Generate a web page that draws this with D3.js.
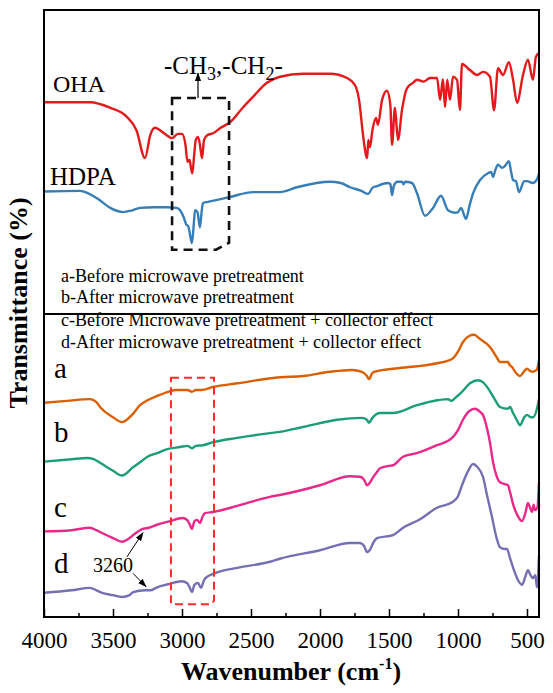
<!DOCTYPE html>
<html><head><meta charset="utf-8">
<script src="https://cdn.jsdelivr.net/npm/d3@7/dist/d3.min.js"></script>
<style>
html,body{margin:0;padding:0;background:#fff;}
svg, svg text{font-family:"Liberation Serif","Times New Roman",serif;}
svg{display:block;}
</style></head>
<body>
<svg id="chart" width="553" height="693"></svg>
<script>
// ---------- data (wavenumber cm-1, relative transmittance) ----------
const OHA = [[4000,84.8],[3667,84.8],[3522,83.9],[3400,82.4],[3330,80.2],[3268,75.6],[3230,79.4],[3196,80.6],[3130,79.7],[3072,78.9],[3030,79.6],[3000,79.6],[2975,77.8],[2960,75.0],[2945,75.3],[2935,74.0],[2925,73.1],[2912,76.1],[2900,78.6],[2884,79.1],[2870,77.8],[2855,75.6],[2840,78.6],[2815,79.4],[2775,79.7],[2720,80.6],[2652,81.5],[2560,83.9],[2485,85.7],[2385,88.0],[2290,89.0],[2123,89.5],[1928,89.5],[1804,88.8],[1746,87.6],[1717,85.2],[1688,79.4],[1667,76.1],[1658,75.6],[1650,78.6],[1638,77.4],[1620,80.2],[1594,82.2],[1580,81.1],[1550,85.2],[1515,86.7],[1490,84.3],[1478,77.8],[1457,83.9],[1435,78.6],[1406,83.5],[1370,87.1],[1326,88.0],[1297,88.5],[1250,88.2],[1203,88.8],[1152,88.8],[1130,85.2],[1109,88.6],[1094,84.0],[1078,88.5],[1058,85.2],[1036,89.0],[1007,88.5],[986,83.5],[971,91.1],[913,90.1],[862,89.3],[819,89.8],[768,89.0],[739,83.5],[710,90.4],[674,89.3],[631,91.4],[601,88.5],[572,84.7],[529,89.3],[493,91.8],[457,88.5],[435,92.3],[413,92.9]];
const HDPA = [[4000,70.1],[3739,70.2],[3680,69.8],[3616,69.0],[3520,67.4],[3428,66.7],[3360,67.0],[3304,67.4],[3200,67.5],[3109,67.5],[3040,67.4],[3014,67.0],[2985,65.7],[2968,64.6],[2955,64.4],[2945,63.4],[2928,61.6],[2915,64.6],[2906,67.0],[2888,66.7],[2870,64.2],[2858,66.7],[2848,68.2],[2812,68.4],[2652,69.2],[2485,70.0],[2290,70.0],[2167,70.8],[1928,71.7],[1850,71.5],[1783,70.8],[1700,70.2],[1652,69.7],[1620,70.7],[1587,71.0],[1507,71.5],[1490,71.3],[1478,69.5],[1465,71.0],[1440,71.7],[1406,71.7],[1395,71.3],[1384,71.7],[1333,71.5],[1297,69.8],[1239,66.1],[1181,67.4],[1123,69.4],[1072,67.0],[1021,66.6],[1000,66.7],[978,67.4],[942,65.6],[915,67.9],[891,69.8],[840,72.0],[783,73.1],[760,73.3],[746,72.5],[730,73.6],[710,74.5],[681,74.0],[660,74.3],[631,75.1],[615,73.3],[601,72.0],[580,71.8],[558,70.0],[520,71.8],[500,71.8],[457,71.5],[430,72.0],[413,73.0]];
const seriesA = [[4000,35.3],[3833,35.6],[3667,35.9],[3620,35.4],[3594,34.6],[3500,32.9],[3435,32.1],[3362,33.3],[3304,34.9],[3250,35.7],[3181,36.4],[3100,37.1],[3039,37.4],[2960,37.4],[2928,37.1],[2900,37.4],[2860,37.4],[2775,37.9],[2600,38.5],[2290,39.5],[2123,39.7],[1928,40.4],[1768,40.7],[1696,40.4],[1660,39.7],[1645,39.2],[1620,40.2],[1587,40.5],[1471,40.9],[1297,41.3],[1152,41.8],[1043,42.5],[1000,43.7],[964,45.3],[920,46.3],[884,46.5],[840,45.8],[768,44.5],[720,42.8],[696,42.0],[660,42.0],[638,42.0],[625,41.5],[609,41.2],[580,40.2],[551,39.7],[520,40.5],[500,40.9],[475,40.5],[457,40.4],[430,40.7],[413,42.3]];
const seriesB = [[4000,25.6],[3800,26.0],[3688,26.2],[3640,26.0],[3594,25.4],[3500,24.1],[3435,23.3],[3353,24.7],[3304,25.5],[3250,26.4],[3181,27.0],[3100,27.7],[3014,28.0],[2960,28.2],[2928,27.8],[2900,28.2],[2848,28.3],[2775,28.8],[2600,29.5],[2362,30.3],[2290,30.5],[2123,31.3],[1877,32.5],[1696,32.8],[1660,32.5],[1645,32.0],[1620,32.8],[1565,33.6],[1471,33.6],[1297,34.9],[1152,35.7],[1070,35.9],[1050,35.6],[1020,36.1],[971,37.1],[913,38.5],[855,39.0],[820,38.7],[783,37.7],[740,36.1],[696,34.6],[638,34.3],[623,34.6],[601,33.6],[575,32.5],[551,31.6],[520,32.9],[500,33.3],[470,32.9],[457,32.9],[430,34.1],[413,35.9]];
const seriesC = [[4000,14.1],[3800,14.3],[3667,14.7],[3620,14.3],[3594,14.0],[3500,13.0],[3435,12.4],[3380,13.0],[3353,13.5],[3283,14.5],[3240,14.7],[3181,15.2],[3100,15.7],[2993,16.3],[2964,16.0],[2945,15.3],[2928,14.5],[2910,15.8],[2891,16.0],[2870,15.5],[2850,16.6],[2833,17.1],[2775,17.3],[2600,18.3],[2362,19.8],[2290,20.1],[2000,21.7],[1783,23.2],[1710,23.1],[1680,22.6],[1660,21.7],[1640,22.1],[1610,23.2],[1587,23.9],[1565,24.5],[1500,24.9],[1471,25.0],[1398,26.4],[1297,27.0],[1152,28.3],[1043,29.5],[1000,30.8],[964,32.5],[920,33.9],[877,34.3],[840,33.8],[819,33.3],[790,31.1],[768,28.7],[746,25.5],[720,23.2],[696,22.2],[660,21.9],[638,21.7],[623,20.6],[600,18.5],[570,16.8],[536,15.8],[510,17.3],[493,18.8],[478,18.0],[464,17.3],[452,18.5],[442,17.6],[425,18.0],[413,22.2]];
const seriesD = [[4000,4.0],[3800,4.4],[3667,4.8],[3620,4.4],[3594,4.1],[3500,3.6],[3435,3.3],[3380,3.6],[3353,4.1],[3268,4.4],[3230,4.4],[3181,4.9],[3100,5.4],[3000,5.9],[2964,5.6],[2945,4.9],[2928,4.1],[2910,5.3],[2884,5.6],[2862,4.8],[2840,6.1],[2819,6.6],[2775,7.1],[2600,8.1],[2362,9.1],[2290,9.6],[2000,11.0],[1783,12.2],[1710,12.2],[1680,11.7],[1660,10.7],[1640,11.0],[1610,12.4],[1587,13.0],[1471,13.5],[1398,14.7],[1275,16.1],[1152,18.0],[1043,18.9],[1000,19.9],[971,21.7],[930,23.9],[891,25.2],[860,24.7],[819,23.1],[790,20.1],[754,16.5],[720,13.0],[696,11.5],[660,11.2],[645,11.2],[623,9.7],[600,8.1],[570,6.3],[536,5.3],[510,6.8],[493,7.7],[475,6.9],[457,6.4],[440,6.9],[428,4.9],[413,10.2]];

const topSeries = [{name:"OHA", data:OHA, color:"#e31a1c"},{name:"HDPA", data:HDPA, color:"#377eb8"}];
const bottomSeries = [{name:"a", data:seriesA, color:"#d95f02"},{name:"b", data:seriesB, color:"#1b9e77"},{name:"c", data:seriesC, color:"#e7298a"},{name:"d", data:seriesD, color:"#7570b3"}];

const majorTicks = [4000,3500,3000,2500,2000,1500,1000,500];
const minorTicks = [3750,3250,2750,2250,1750,1250,750];
const legendTop = ["a-Before microwave pretreatment","b-After microwave pretreatment"];
const legendBottom = ["c-Before Microwave pretreatment + collector effect","d-After microwave pretreatment + collector effect"];

// annotation regions in data units
const blackBox = {w0:3072, w1:2659, v0:60.5, v1:85.5};
const redBox = {w0:3080, w1:2768, v0:2.1, v1:39.4};

// ---------- layout ----------
const FONT = '"Liberation Serif","Times New Roman",serif';
const L=44, R=539, T=10, B=617, DIV=314;
const svg = d3.select("#chart");
const x = d3.scaleLinear().domain([4000,413]).range([L,R]);
const y = d3.scaleLinear().domain([0,100]).range([B,T]);

const defs = svg.append("defs");
defs.append("marker").attr("id","ah").attr("viewBox","0 0 10 10").attr("refX",9).attr("refY",5)
  .attr("markerWidth",9).attr("markerHeight",9).attr("markerUnits","userSpaceOnUse").attr("orient","auto")
  .append("path").attr("d","M0,1.5 L10,5 L0,8.5 Z").attr("fill","#000");

const line = d3.line().x(d=>x(d[0])).y(d=>y(d[1])).curve(d3.curveMonotoneX);

// curves
[...topSeries, ...bottomSeries].forEach(s=>{
  svg.append("path").datum(s.data).attr("d",line).attr("fill","none")
    .attr("stroke",s.color).attr("stroke-width",2.4).attr("stroke-linejoin","round");
});

// dashed boxes
svg.append("path")
  .attr("d",`M${x(blackBox.w0)},${y(blackBox.v1)} L${x(blackBox.w1)},${y(blackBox.v1)} L${x(blackBox.w1)},${y(blackBox.v0)-7} L${x(blackBox.w1)-13},${y(blackBox.v0)} L${x(blackBox.w0)},${y(blackBox.v0)} Z`)
  .attr("fill","none").attr("stroke","#111").attr("stroke-width",2.6).attr("stroke-dasharray","9,6");
svg.append("path")
  .attr("d",`M${x(redBox.w0)},${y(redBox.v1)} L${x(redBox.w1)},${y(redBox.v1)} L${x(redBox.w1)},${y(redBox.v0)-4} L${x(redBox.w1)-2},${y(redBox.v0)} L${x(redBox.w0)},${y(redBox.v0)} Z`)
  .attr("fill","none").attr("stroke","#ff2a2a").attr("stroke-width",2).attr("stroke-dasharray","8,5");

// arrow above black box
svg.append("line").attr("x1",x(2884)).attr("x2",x(2884)).attr("y1",y(blackBox.v1)).attr("y2",y(89.6))
  .attr("stroke","#000").attr("stroke-width",1.2).attr("marker-end","url(#ah)");

// 3260 arrows
svg.append("line").attr("x1",x(3399)).attr("y1",y(9.9)).attr("x2",x(3283)).attr("y2",y(13.9))
  .attr("stroke","#000").attr("stroke-width",1).attr("marker-end","url(#ah)");
svg.append("line").attr("x1",x(3355)).attr("y1",y(7.2)).attr("x2",x(3261)).attr("y2",y(5.0))
  .attr("stroke","#000").attr("stroke-width",1).attr("marker-end","url(#ah)");

// frame and divider
svg.append("rect").attr("x",L).attr("y",T).attr("width",R-L).attr("height",B-T)
  .attr("fill","none").attr("stroke","#000").attr("stroke-width",2);
svg.append("line").attr("x1",L).attr("x2",R).attr("y1",DIV).attr("y2",DIV)
  .attr("stroke","#000").attr("stroke-width",2);

// axes
const ax = svg.append("g").attr("transform",`translate(0,${B})`)
  .call(d3.axisBottom(x).tickValues(majorTicks).tickSize(-8).tickPadding(15).tickFormat(d3.format("d")));
ax.attr("font-family",FONT).style("font-family",FONT);
ax.select(".domain").remove();
ax.selectAll("line").attr("stroke","#000").attr("stroke-width",1.5);
ax.selectAll("text").style("font-family",FONT).attr("font-size",23).attr("fill","#000");
const axm = svg.append("g").attr("transform",`translate(0,${B})`)
  .call(d3.axisBottom(x).tickValues(minorTicks).tickSize(-4).tickFormat(""));
axm.select(".domain").remove();
axm.selectAll("line").attr("stroke","#000").attr("stroke-width",1.5);

// axis titles
const xt = svg.append("text").attr("x",291).attr("y",680).attr("text-anchor","middle")
  .attr("font-size",26).attr("font-weight","bold");
xt.append("tspan").text("Wavenumber (cm");
xt.append("tspan").attr("font-size",16).attr("dy",-11).text("-1");
xt.append("tspan").attr("dy",11).text(")");

svg.append("text").attr("transform","translate(27,303) rotate(-90)").attr("text-anchor","middle")
  .attr("font-size",26).attr("font-weight","bold").text("Transmittance (%)");

// labels
svg.append("text").attr("x",53).attr("y",92).attr("font-size",24).text("OHA");
svg.append("text").attr("x",50).attr("y",185).attr("font-size",25).text("HDPA");
const ch = svg.append("text").attr("x",164).attr("y",74).attr("font-size",25);
ch.append("tspan").text("-CH");
ch.append("tspan").attr("font-size",18).attr("dy",6).text("3");
ch.append("tspan").attr("dy",-6).text(",-CH");
ch.append("tspan").attr("font-size",18).attr("dy",6).text("2");
ch.append("tspan").attr("dy",-6).text("-");

legendTop.forEach((t,i)=>svg.append("text").attr("x",61).attr("y",282+i*21).attr("font-size",18).text(t));
legendBottom.forEach((t,i)=>svg.append("text").attr("x",61).attr("y",326+i*22).attr("font-size",18).text(t));

const curveLabelY = [378,442,517,573];
bottomSeries.forEach((s,i)=>svg.append("text").attr("x",54).attr("y",curveLabelY[i]).attr("font-size",29).text(s.name));

svg.append("text").attr("x",93).attr("y",572).attr("font-size",20).text("3260");
</script>
</body></html>
